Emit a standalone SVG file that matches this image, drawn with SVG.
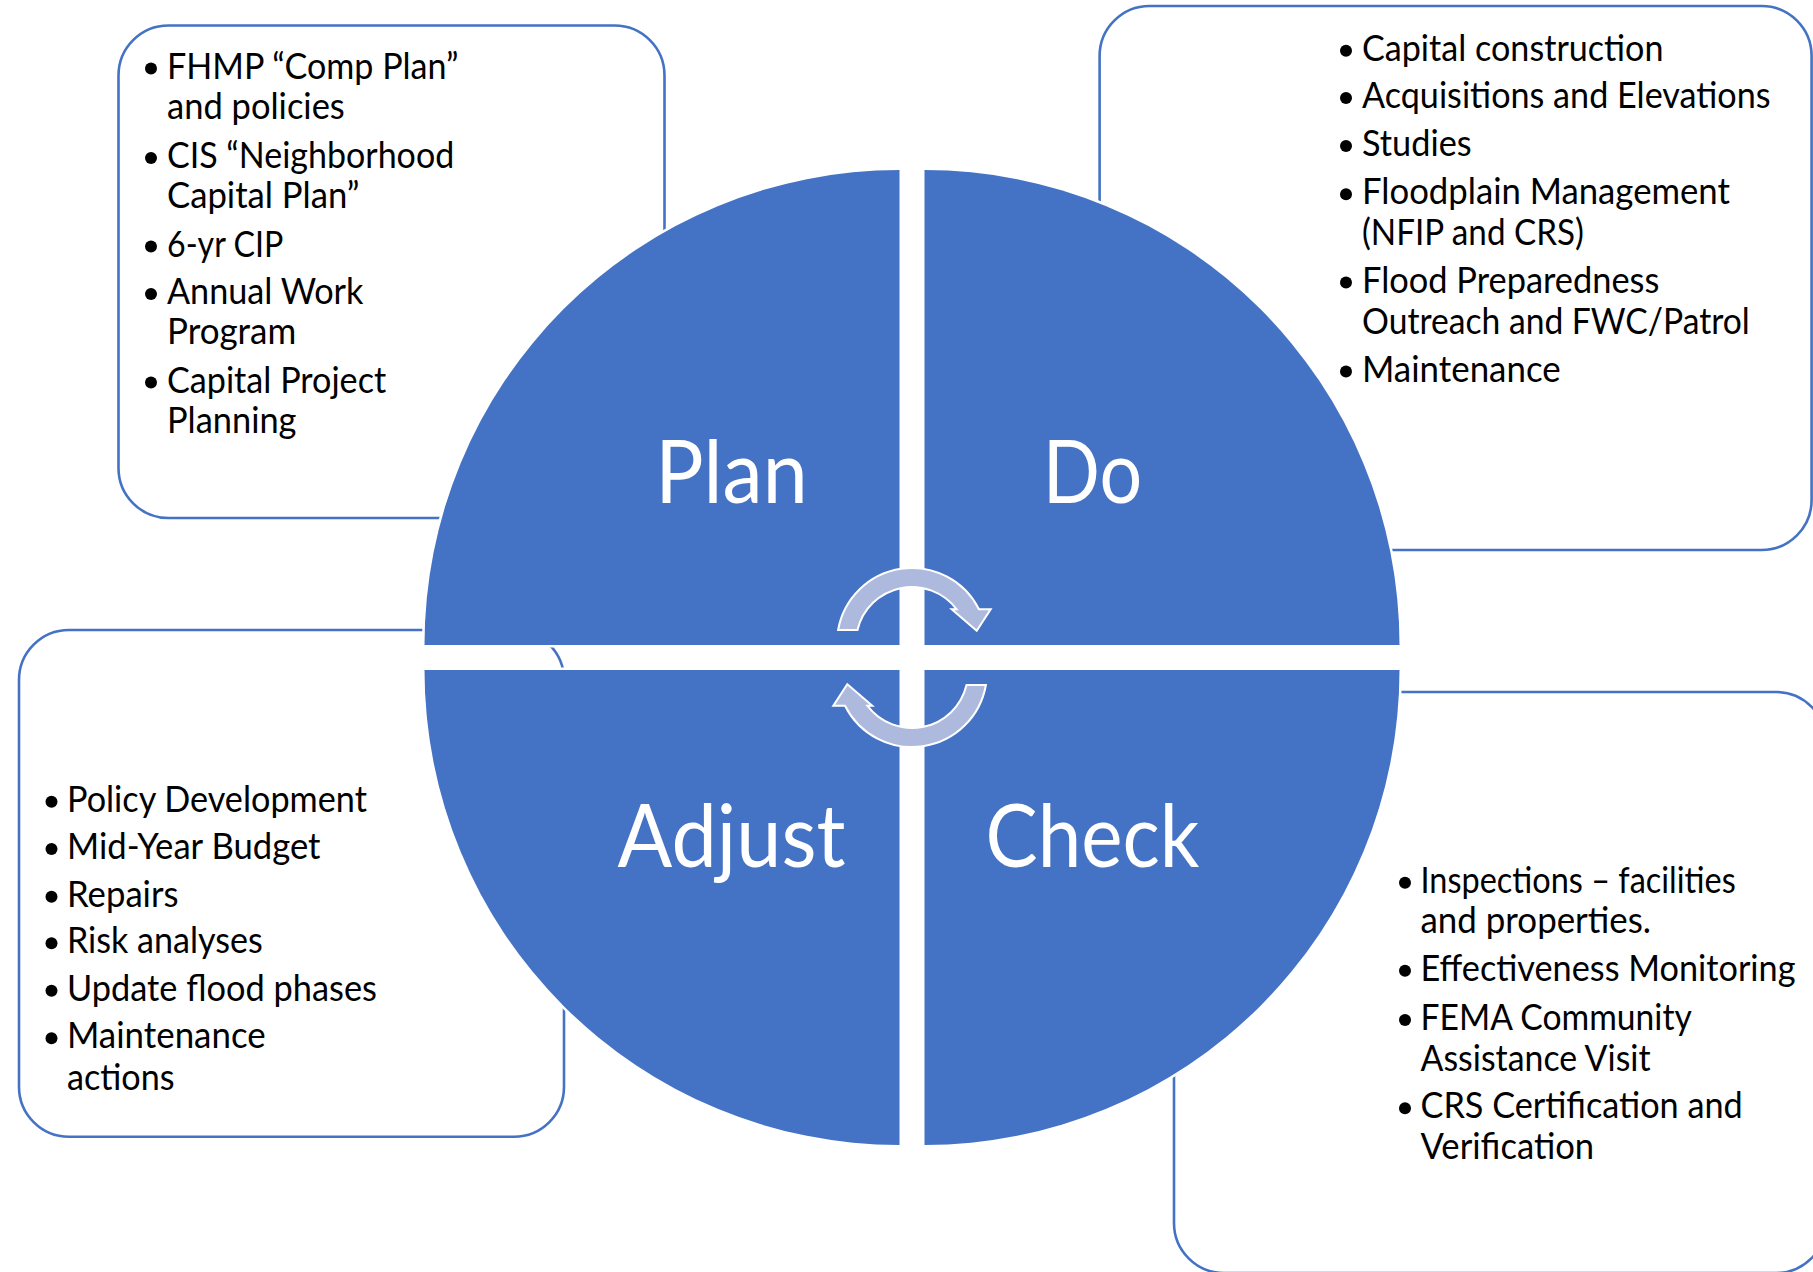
<svg xmlns="http://www.w3.org/2000/svg" width="1813" height="1272" viewBox="0 0 1813 1272">
<style>
.box{fill:#fff;stroke:#4472C4;stroke-width:2.6}
.q{fill:#4472C4}
.halo{fill:none;stroke:#fff;stroke-width:5;stroke-linejoin:round}
.t{font-family:Lato,"Liberation Sans",sans-serif;font-size:37px;fill:#000}
.big{font-family:Lato,"Liberation Sans",sans-serif;font-size:87px;fill:#fff;text-anchor:middle}
.b{fill:#000}
.arr{fill:#AEBADD;stroke:#fff;stroke-width:2;stroke-linejoin:miter}
</style>
<defs>
<path id="pPlan" d="M 899.5 645 L 424.5 645 A 475 475 0 0 1 899.5 170 Z"/>
<path id="pDo" d="M 924.5 645 L 924.5 170 A 475 475 0 0 1 1399.5 645 Z"/>
<path id="pCheck" d="M 924.5 670 L 1399.5 670 A 475 475 0 0 1 924.5 1145 Z"/>
<path id="pAdjust" d="M 899.5 670 L 899.5 1145 A 475 475 0 0 1 424.5 670 Z"/>
<path id="arrow" d="M 838.1 630 A 75 75 0 0 1 979 609.3 L 990.7 609.3 L 976.7 630.7 L 951.7 609.3 L 956.7 609.3 A 56 56 0 0 0 857.5 630 Z"/>
</defs>
<rect width="1813" height="1272" fill="#fff"/>

<g id="node-plan-list">
<rect class="box" x="118.5" y="25.5" width="546" height="492.5" rx="50" ry="50"/>
<circle class="b" cx="151" cy="68.5" r="6"/>
<circle class="b" cx="151" cy="158" r="6"/>
<circle class="b" cx="151" cy="246.6" r="6"/>
<circle class="b" cx="151" cy="294" r="6"/>
<circle class="b" cx="151" cy="382.6" r="6"/>
<text class="t" x="167" y="78.5" textLength="291.4" lengthAdjust="spacingAndGlyphs">FHMP “Comp Plan”</text>
<text class="t" x="167" y="118.8" textLength="177.8" lengthAdjust="spacingAndGlyphs">and policies</text>
<text class="t" x="167" y="168" textLength="287.2" lengthAdjust="spacingAndGlyphs">CIS “Neighborhood</text>
<text class="t" x="167" y="208.4" textLength="192.5" lengthAdjust="spacingAndGlyphs">Capital Plan”</text>
<text class="t" x="167" y="256.6" textLength="116.3" lengthAdjust="spacingAndGlyphs">6-yr CIP</text>
<text class="t" x="167" y="304" textLength="196.4" lengthAdjust="spacingAndGlyphs">Annual Work</text>
<text class="t" x="167" y="344.4" textLength="129.2" lengthAdjust="spacingAndGlyphs">Program</text>
<text class="t" x="167" y="392.6" textLength="219.2" lengthAdjust="spacingAndGlyphs">Capital Project</text>
<text class="t" x="167" y="433.3" textLength="129.5" lengthAdjust="spacingAndGlyphs">Planning</text>
</g>

<g id="node-do-list">
<rect class="box" x="1099.6" y="6" width="712" height="544" rx="50" ry="50"/>
<circle class="b" cx="1346" cy="50.7" r="6"/>
<circle class="b" cx="1346" cy="98" r="6"/>
<circle class="b" cx="1346" cy="146" r="6"/>
<circle class="b" cx="1346" cy="194.2" r="6"/>
<circle class="b" cx="1346" cy="282.5" r="6"/>
<circle class="b" cx="1346" cy="371.5" r="6"/>
<text class="t" x="1362" y="60.7" textLength="301.5" lengthAdjust="spacingAndGlyphs">Capital construction</text>
<text class="t" x="1362" y="108" textLength="408.6" lengthAdjust="spacingAndGlyphs">Acquisitions and Elevations</text>
<text class="t" x="1362" y="156" textLength="109.6" lengthAdjust="spacingAndGlyphs">Studies</text>
<text class="t" x="1362" y="204.2" textLength="367.9" lengthAdjust="spacingAndGlyphs">Floodplain Management</text>
<text class="t" x="1362" y="245" textLength="221.9" lengthAdjust="spacingAndGlyphs">(NFIP and CRS)</text>
<text class="t" x="1362" y="292.5" textLength="297.4" lengthAdjust="spacingAndGlyphs">Flood Preparedness</text>
<text class="t" x="1362" y="333.5" textLength="387.8" lengthAdjust="spacingAndGlyphs">Outreach and FWC/Patrol</text>
<text class="t" x="1362" y="381.5" textLength="198.7" lengthAdjust="spacingAndGlyphs">Maintenance</text>
</g>

<g id="node-adjust-list">
<rect class="box" x="19" y="630" width="545" height="506.7" rx="50" ry="50"/>
<circle class="b" cx="51.5" cy="801.7" r="6"/>
<circle class="b" cx="51.5" cy="849" r="6"/>
<circle class="b" cx="51.5" cy="896.7" r="6"/>
<circle class="b" cx="51.5" cy="943.3" r="6"/>
<circle class="b" cx="51.5" cy="990.7" r="6"/>
<circle class="b" cx="51.5" cy="1038.3" r="6"/>
<text class="t" x="67" y="811.7" textLength="299.9" lengthAdjust="spacingAndGlyphs">Policy Development</text>
<text class="t" x="67" y="859" textLength="253.5" lengthAdjust="spacingAndGlyphs">Mid-Year Budget</text>
<text class="t" x="67" y="906.7" textLength="111.5" lengthAdjust="spacingAndGlyphs">Repairs</text>
<text class="t" x="67" y="953.3" textLength="195.7" lengthAdjust="spacingAndGlyphs">Risk analyses</text>
<text class="t" x="67" y="1000.7" textLength="310" lengthAdjust="spacingAndGlyphs">Update flood phases</text>
<text class="t" x="67" y="1048.3" textLength="198.7" lengthAdjust="spacingAndGlyphs">Maintenance</text>
<text class="t" x="67" y="1090" textLength="107.6" lengthAdjust="spacingAndGlyphs">actions</text>
</g>

<g id="node-check-list">
<rect class="box" x="1174" y="692" width="652" height="581" rx="50" ry="50"/>
<circle class="b" cx="1405" cy="882.7" r="6"/>
<circle class="b" cx="1405" cy="970.7" r="6"/>
<circle class="b" cx="1405" cy="1020" r="6"/>
<circle class="b" cx="1405" cy="1108.3" r="6"/>
<text class="t" x="1420.5" y="892.7" textLength="315.2" lengthAdjust="spacingAndGlyphs">Inspections – facilities</text>
<text class="t" x="1420.5" y="932.7" textLength="230.6" lengthAdjust="spacingAndGlyphs">and properties.</text>
<text class="t" x="1420.5" y="980.7" textLength="375" lengthAdjust="spacingAndGlyphs">Effectiveness Monitoring</text>
<text class="t" x="1420.5" y="1030" textLength="271.3" lengthAdjust="spacingAndGlyphs">FEMA Community</text>
<text class="t" x="1420.5" y="1070.7" textLength="230.1" lengthAdjust="spacingAndGlyphs">Assistance Visit</text>
<text class="t" x="1420.5" y="1118.3" textLength="322.3" lengthAdjust="spacingAndGlyphs">CRS Certification and</text>
<text class="t" x="1420.5" y="1159.3" textLength="173.7" lengthAdjust="spacingAndGlyphs">Verification</text>
</g>

<g id="node-plan">
<use href="#pPlan" class="halo"/>
<use href="#pPlan" class="q"/>
<text class="big" x="731.5" y="502.7" textLength="152.3" lengthAdjust="spacingAndGlyphs">Plan</text>
</g>
<g id="node-do">
<use href="#pDo" class="halo"/>
<use href="#pDo" class="q"/>
<text class="big" x="1092.5" y="502.7" textLength="99.4" lengthAdjust="spacingAndGlyphs">Do</text>
</g>
<g id="node-check">
<use href="#pCheck" class="halo"/>
<use href="#pCheck" class="q"/>
<text class="big" x="1092.5" y="867" textLength="214" lengthAdjust="spacingAndGlyphs">Check</text>
</g>
<g id="node-adjust">
<use href="#pAdjust" class="halo"/>
<use href="#pAdjust" class="q"/>
<text class="big" x="731.5" y="867" textLength="228" lengthAdjust="spacingAndGlyphs">Adjust</text>
</g>

<g id="connectors">
<use href="#arrow" class="arr"/>
<use href="#arrow" class="arr" transform="rotate(180 912 657.5)"/>
</g>
</svg>
